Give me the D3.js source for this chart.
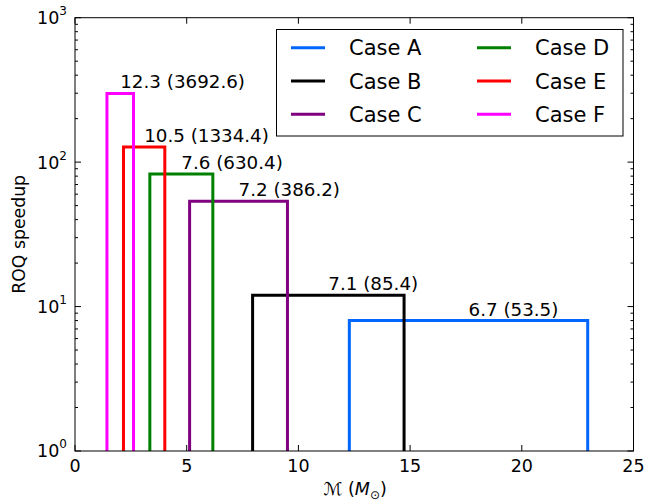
<!DOCTYPE html>
<html>
<head>
<meta charset="utf-8">
<script src="https://cdn.jsdelivr.net/npm/d3@7"></script>
<style>
  body { margin: 0; background: #fff; }
  svg { display: block; }
  text { font-family: "DejaVu Sans", sans-serif; }
</style>
</head>
<body>
<svg id="chart"></svg>
<script>
// chirp mass ranges and speedups
const cases = ["Case A", "Case B", "Case C", "Case D", "Case E", "Case F"];
const mcLow = [12.28, 7.95, 5.13, 3.35, 2.17, 1.43];
const mcHigh = [22.95, 14.73, 9.51, 6.17, 4.02, 2.62];
const speedup = [8.0, 12.0, 53.7, 82.8, 127.5, 299.0];
const notes = ["6.7 (53.5)", "7.1 (85.4)", "7.2 (386.2)", "7.6 (630.4)", "10.5 (1334.4)", "12.3 (3692.6)"];
const colors = ["#0066ff", "#000000", "#800080", "#008000", "#ff0000", "#ff00ff"];
const xTicks = [0, 5, 10, 15, 20, 25];
const yTicks = [1, 10, 100, 1000];

const W = 645, H = 502;
const m = { left: 75, right: 11.5, top: 17.7, bottom: 51 };
const iw = W - m.left - m.right, ih = H - m.top - m.bottom;

const svg = d3.select("#chart").attr("width", W).attr("height", H);

const x = d3.scaleLinear().domain([0, 25]).range([0, iw]);
const y = d3.scaleLog().domain([1, 1000]).range([ih, 0]);

const g = svg.append("g").attr("transform", `translate(${m.left},${m.top})`);

g.append("clipPath").attr("id", "plotclip")
  .append("rect").attr("width", iw).attr("height", ih);

// boxes
const boxes = g.append("g").attr("clip-path", "url(#plotclip)");
cases.forEach((c, i) => {
  const p = d3.path();
  p.moveTo(x(mcLow[i]), y(0.8));
  p.lineTo(x(mcLow[i]), y(speedup[i]));
  p.lineTo(x(mcHigh[i]), y(speedup[i]));
  p.lineTo(x(mcHigh[i]), y(0.8));
  boxes.append("path")
    .attr("d", p.toString())
    .attr("fill", "none")
    .attr("stroke", colors[i])
    .attr("stroke-width", 3);
});

// annotations
cases.forEach((c, i) => {
  g.append("text")
    .attr("x", x((mcLow[i] + mcHigh[i]) / 2))
    .attr("y", y(speedup[i]) - 5)
    .attr("font-size", 18.3)
    .attr("fill", "#000")
    .text(notes[i]);
});

// ticks (inward, on all sides)
const ticks = g.append("g").attr("stroke", "#000").attr("stroke-width", 1);
xTicks.forEach(t => {
  ticks.append("line").attr("x1", x(t)).attr("x2", x(t)).attr("y1", ih).attr("y2", ih - 6);
  ticks.append("line").attr("x1", x(t)).attr("x2", x(t)).attr("y1", 0).attr("y2", 6);
});
const minor = [];
for (let d = 1; d < 1000; d *= 10) for (let k = 2; k <= 9; k++) minor.push(d * k);
yTicks.forEach(t => {
  ticks.append("line").attr("x1", 0).attr("x2", 6).attr("y1", y(t)).attr("y2", y(t));
  ticks.append("line").attr("x1", iw).attr("x2", iw - 6).attr("y1", y(t)).attr("y2", y(t));
});
minor.forEach(t => {
  ticks.append("line").attr("x1", 0).attr("x2", 3).attr("y1", y(t)).attr("y2", y(t));
  ticks.append("line").attr("x1", iw).attr("x2", iw - 3).attr("y1", y(t)).attr("y2", y(t));
});

// frame
g.append("rect").attr("width", iw).attr("height", ih)
  .attr("fill", "none").attr("stroke", "#000").attr("stroke-width", 1);

// tick labels
xTicks.forEach(t => {
  g.append("text")
    .attr("x", x(t)).attr("y", ih + 21)
    .attr("text-anchor", "middle")
    .attr("font-size", 17.5)
    .text(t);
});
yTicks.forEach(t => {
  const tx = g.append("text")
    .attr("x", -8).attr("y", y(t) + 6.5)
    .attr("text-anchor", "end")
    .attr("font-size", 17.5);
  tx.append("tspan").text("10");
  tx.append("tspan").attr("font-size", 12).attr("dy", -9).text(Math.round(Math.log10(t)));
});

// axis titles
svg.append("text")
  .attr("transform", `translate(25,${m.top + ih / 2}) rotate(-90)`)
  .attr("text-anchor", "middle")
  .attr("font-size", 17.3)
  .text("ROQ speedup");

const xl = svg.append("text")
  .attr("x", m.left + iw / 2 + 1).attr("y", 495)
  .attr("text-anchor", "middle")
  .attr("font-family", "DejaVu Serif, serif")
  .attr("font-size", 17.5);
xl.append("tspan").attr("font-style", "italic").text("\u2133");
xl.append("tspan").text(" (");
xl.append("tspan").attr("font-style", "italic").text("M");
xl.append("tspan").attr("font-size", 12).attr("dy", 4).text("\u2299");
xl.append("tspan").attr("dy", -4).text(")");

// legend
const lg = svg.append("g");
lg.append("rect")
  .attr("x", 276.5).attr("y", 29.5).attr("width", 346.5).attr("height", 106.5)
  .attr("fill", "#fff").attr("stroke", "#000").attr("stroke-width", 1);
cases.forEach((c, i) => {
  const col = Math.floor(i / 3), row = i % 3;
  const lx = col === 0 ? 291 : 477;
  const ly = 47.7 + row * 33.3;
  lg.append("line")
    .attr("x1", lx).attr("x2", lx + 34)
    .attr("y1", ly).attr("y2", ly)
    .attr("stroke", colors[i]).attr("stroke-width", 3);
  lg.append("text")
    .attr("x", lx + 58).attr("y", ly + 7.5)
    .attr("font-size", 21)
    .text(c);
});
</script>
</body>
</html>
